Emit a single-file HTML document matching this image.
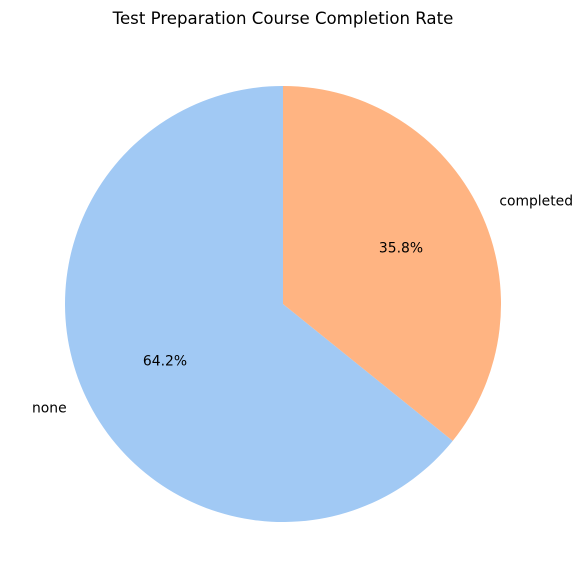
<!DOCTYPE html>
<html><head><meta charset="utf-8"><style>
body{margin:0;background:#fff;}
svg{display:block;font-family:"DejaVu Sans","Liberation Sans",sans-serif;}
</style></head><body>
<svg id="c" width="582" height="587" viewBox="0 0 582 587">
<text x="283" y="24" text-anchor="middle" font-size="16.6" fill="#000">Test Preparation Course Completion Rate</text>
<g id="slices"></g>
</svg>
<script>
const categories = ["none", "completed"];
const values = [64.2, 35.8];
const colors = ["#a1c9f4", "#ffb482"];
const cx = 283, cy = 304, r = 218, startAngle = 90;
const ns = "http://www.w3.org/2000/svg";
const g = document.getElementById("slices");
const total = values.reduce((a, b) => a + b, 0);
let a0 = startAngle;
function pt(deg, rad) { const t = deg * Math.PI / 180; return [cx + rad * Math.cos(t), cy - rad * Math.sin(t)]; }
values.forEach((v, i) => {
  const sweep = v / total * 360, a1 = a0 + sweep;
  const p0 = pt(a0, r), p1 = pt(a1, r);
  const path = document.createElementNS(ns, "path");
  path.setAttribute("d", `M${cx},${cy} L${p0[0]},${p0[1]} A${r},${r} 0 ${sweep > 180 ? 1 : 0} 0 ${p1[0]},${p1[1]} Z`);
  path.setAttribute("fill", colors[i]);
  
  
  g.appendChild(path);
  const mid = a0 + sweep / 2;
  const lp = pt(mid, r * 1.1);
  const lt = document.createElementNS(ns, "text");
  lt.setAttribute("x", lp[0]); lt.setAttribute("y", lp[1] + 5);
  lt.setAttribute("font-size", "13.9");
  lt.setAttribute("text-anchor", Math.cos(mid * Math.PI / 180) < 0 ? "end" : "start");
  lt.textContent = categories[i];
  
  
  g.appendChild(lt);
  const pp = pt(mid, r * 0.6);
  const pt2 = document.createElementNS(ns, "text");
  pt2.setAttribute("x", pp[0]); pt2.setAttribute("y", pp[1] + 5);
  pt2.setAttribute("font-size", "13.9");
  pt2.setAttribute("text-anchor", "middle");
  pt2.textContent = (v / total * 100).toFixed(1) + "%";
  
  
  g.appendChild(pt2);
  a0 = a1;
});
</script>
</body></html>
